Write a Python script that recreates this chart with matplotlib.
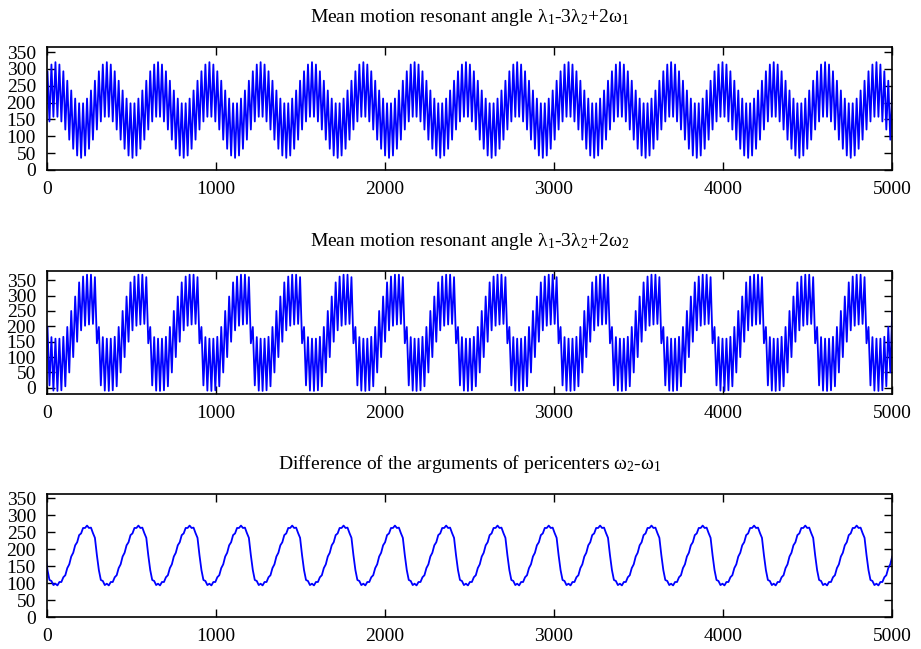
import numpy as np
import matplotlib
matplotlib.use('Agg')
import matplotlib.pyplot as plt

plt.rcParams['font.family'] = ['Liberation Serif', 'DejaVu Serif']
plt.rcParams['mathtext.fontset'] = 'custom'
plt.rcParams['mathtext.rm'] = 'Liberation Serif'
plt.rcParams['mathtext.it'] = 'Liberation Serif:italic'

# times of the minima of w2-w1 (start of each slow cycle)
cycle_starts = [-254, 50, 354, 657, 961, 1264, 1568, 1872, 2175, 2479, 2782,
                3086, 3390, 3693, 3997, 4300, 4604, 4908]
slow_period = 303.6

# turning points of the fast oscillation over one slow cycle (degrees)
phi1_turns = [320, 158, 313, 144, 293, 120, 265, 90, 236, 63, 212, 43, 198,
              36, 198, 43, 212, 63, 236, 90, 265, 120, 293, 144, 313, 158]
phi2_turns = [160, -10, 160, -8, 166, 5, 198, 50, 250, 100, 297, 150, 343,
              187, 362, 202, 368, 206, 368, 208, 360, 145, 198, 8, 165, -9]
dw_turns = [98, 93, 103, 103, 117, 123, 144, 155, 178, 189, 211, 220, 241,
            246, 262, 262, 269, 262, 263, 247, 233, 182, 138, 109, 106, 94]

titles = [r'Mean motion resonant angle $\mathrm{\lambda}_1$-3$\mathrm{\lambda}_2$+2$\mathrm{\omega}_1$',
          r'Mean motion resonant angle $\mathrm{\lambda}_1$-3$\mathrm{\lambda}_2$+2$\mathrm{\omega}_2$',
          r'Difference of the arguments of pericenters $\mathrm{\omega}_2$-$\mathrm{\omega}_1$']
ylims = [(0, 365), (-20, 380), (0, 362)]
xticks = [0, 1000, 2000, 3000, 4000, 5000]
yticks = [0, 50, 100, 150, 200, 250, 300, 350]


def build_series(starts, turns, period):
    offsets = np.arange(len(turns)) * period / len(turns)
    t = np.concatenate([s + offsets for s in starts])
    v = np.tile(turns, len(starts))
    return t, v


W, H = 921, 649
fig = plt.figure(figsize=(W / 100, H / 100), dpi=100)

# axes boxes in pixels: top, bottom
boxes = [(47, 170), (271, 394), (494, 617)]
left, right = 47, 892

for i, turns in enumerate([phi1_turns, phi2_turns, dw_turns]):
    top, bottom = boxes[i]
    ax = fig.add_axes([left / W, 1 - bottom / H, (right - left) / W, (bottom - top) / H])
    t, v = build_series(cycle_starts, turns, slow_period)
    ax.plot(t, v, color='#0000ff', lw=1.3)
    ax.set_xlim(0, 5000)
    ax.set_ylim(*ylims[i])
    ax.set_xticks(xticks)
    ax.set_yticks(yticks)
    ax.tick_params(direction='in', top=True, right=True, length=6, width=1.0,
                   labelsize=14)
    ax.tick_params(axis='x', pad=8)
    ax.tick_params(axis='y', pad=8)
    for sp in ax.spines.values():
        sp.set_linewidth(1.2)
    fig.text(0.5 * (left + right) / W, 1 - (top - 30) / H, titles[i],
             ha='center', va='center', fontsize=14)

fig.savefig('out.png', dpi=100)
